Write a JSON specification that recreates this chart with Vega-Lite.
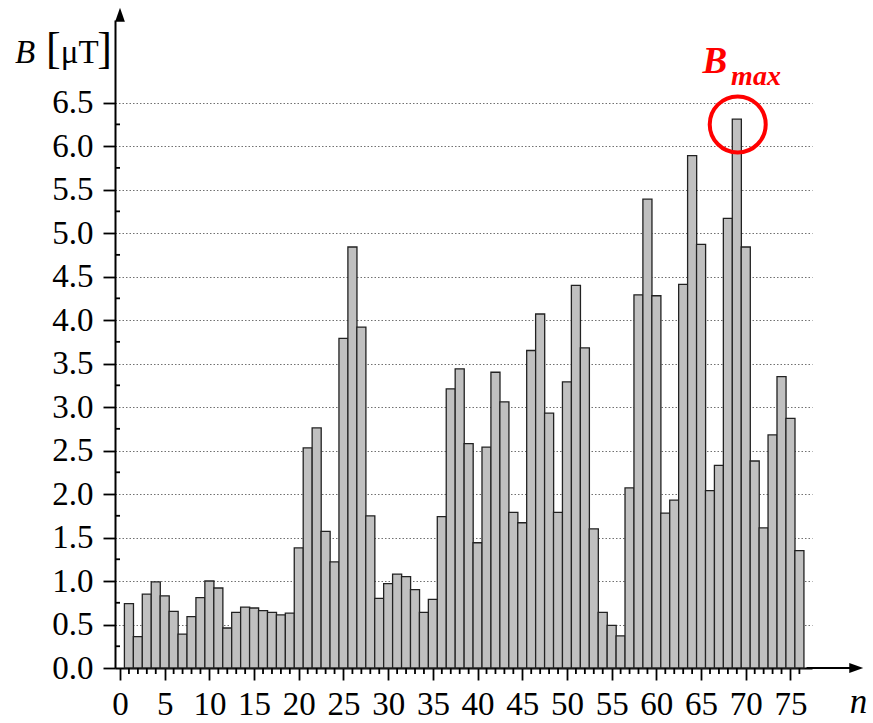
{
  "$schema": "https://vega.github.io/schema/vega-lite/v6.json",
  "autosize": {"type": "none"},
  "padding": {"left": 115, "top": 20, "right": 61, "bottom": 55},
  "width": 697,
  "height": 648,
  "background": "white",
  "config": {"view": {"stroke": null}},
  "datasets": {
    "bars": [
      {"n": 1, "B": 0.74}, {"n": 2, "B": 0.36}, {"n": 3, "B": 0.85}, {"n": 4, "B": 0.99},
      {"n": 5, "B": 0.83}, {"n": 6, "B": 0.65}, {"n": 7, "B": 0.39}, {"n": 8, "B": 0.59},
      {"n": 9, "B": 0.81}, {"n": 10, "B": 1.00}, {"n": 11, "B": 0.92}, {"n": 12, "B": 0.46},
      {"n": 13, "B": 0.64}, {"n": 14, "B": 0.70}, {"n": 15, "B": 0.69}, {"n": 16, "B": 0.66},
      {"n": 17, "B": 0.64}, {"n": 18, "B": 0.61}, {"n": 19, "B": 0.63}, {"n": 20, "B": 1.38},
      {"n": 21, "B": 2.53}, {"n": 22, "B": 2.76}, {"n": 23, "B": 1.57}, {"n": 24, "B": 1.22},
      {"n": 25, "B": 3.79}, {"n": 26, "B": 4.84}, {"n": 27, "B": 3.92}, {"n": 28, "B": 1.75},
      {"n": 29, "B": 0.80}, {"n": 30, "B": 0.97}, {"n": 31, "B": 1.08}, {"n": 32, "B": 1.05},
      {"n": 33, "B": 0.90}, {"n": 34, "B": 0.64}, {"n": 35, "B": 0.79}, {"n": 36, "B": 1.74},
      {"n": 37, "B": 3.21}, {"n": 38, "B": 3.44}, {"n": 39, "B": 2.58}, {"n": 40, "B": 1.44},
      {"n": 41, "B": 2.54}, {"n": 42, "B": 3.40}, {"n": 43, "B": 3.06}, {"n": 44, "B": 1.79},
      {"n": 45, "B": 1.67}, {"n": 46, "B": 3.65}, {"n": 47, "B": 4.07}, {"n": 48, "B": 2.93},
      {"n": 49, "B": 1.79}, {"n": 50, "B": 3.29}, {"n": 51, "B": 4.40}, {"n": 52, "B": 3.68},
      {"n": 53, "B": 1.60}, {"n": 54, "B": 0.64}, {"n": 55, "B": 0.49}, {"n": 56, "B": 0.37},
      {"n": 57, "B": 2.07}, {"n": 58, "B": 4.29}, {"n": 59, "B": 5.39}, {"n": 60, "B": 4.28},
      {"n": 61, "B": 1.78}, {"n": 62, "B": 1.93}, {"n": 63, "B": 4.41}, {"n": 64, "B": 5.89},
      {"n": 65, "B": 4.87}, {"n": 66, "B": 2.04}, {"n": 67, "B": 2.33}, {"n": 68, "B": 5.17},
      {"n": 69, "B": 6.31}, {"n": 70, "B": 4.84}, {"n": 71, "B": 2.38}, {"n": 72, "B": 1.61},
      {"n": 73, "B": 2.68}, {"n": 74, "B": 3.35}, {"n": 75, "B": 2.87}, {"n": 76, "B": 1.35}
    ],
    "minorX": [
      {"m": 1}, {"m": 2}, {"m": 3}, {"m": 4}, {"m": 6}, {"m": 7}, {"m": 8}, {"m": 9},
      {"m": 11}, {"m": 12}, {"m": 13}, {"m": 14}, {"m": 16}, {"m": 17}, {"m": 18}, {"m": 19},
      {"m": 21}, {"m": 22}, {"m": 23}, {"m": 24}, {"m": 26}, {"m": 27}, {"m": 28}, {"m": 29},
      {"m": 31}, {"m": 32}, {"m": 33}, {"m": 34}, {"m": 36}, {"m": 37}, {"m": 38}, {"m": 39},
      {"m": 41}, {"m": 42}, {"m": 43}, {"m": 44}, {"m": 46}, {"m": 47}, {"m": 48}, {"m": 49},
      {"m": 51}, {"m": 52}, {"m": 53}, {"m": 54}, {"m": 56}, {"m": 57}, {"m": 58}, {"m": 59},
      {"m": 61}, {"m": 62}, {"m": 63}, {"m": 64}, {"m": 66}, {"m": 67}, {"m": 68}, {"m": 69},
      {"m": 71}, {"m": 72}, {"m": 73}, {"m": 74}, {"m": 76}
    ],
    "minorY": [
      {"v": 0.25}, {"v": 0.75}, {"v": 1.25}, {"v": 1.75}, {"v": 2.25}, {"v": 2.75}, {"v": 3.25},
      {"v": 3.75}, {"v": 4.25}, {"v": 4.75}, {"v": 5.25}, {"v": 5.75}, {"v": 6.25}
    ],
    "one": [{}]
  },
  "layer": [
    {
      "data": {"name": "bars"},
      "mark": {"type": "bar", "orient": "vertical", "width": 9.07, "fill": "#c0c0c0", "stroke": "#222222", "strokeWidth": 1.3},
      "encoding": {
        "x": {
          "field": "n", "type": "quantitative",
          "scale": {"domain": [0, 76.85], "nice": false, "zero": false},
          "axis": {
            "values": [0, 5, 10, 15, 20, 25, 30, 35, 40, 45, 50, 55, 60, 65, 70, 75],
            "grid": false,
            "domainColor": "black", "domainWidth": 2,
            "tickColor": "black", "tickWidth": 1.8, "tickSize": 12,
            "labelFont": "Liberation Serif", "labelFontSize": 33, "labelColor": "black",
            "labelBaseline": "alphabetic", "labelPadding": 34,
            "labelOverlap": false, "labelFlush": false, "labelBound": false,
            "title": "n",
            "titleFont": "Liberation Serif", "titleFontSize": 35, "titleFontStyle": "italic", "titleFontWeight": "normal",
            "titleColor": "black", "titleAlign": "center", "titleBaseline": "alphabetic",
            "titleAnchor": "start", "titleX": 743, "titleY": 44
          }
        },
        "y": {
          "field": "B", "type": "quantitative",
          "scale": {"domain": [0, 7.45], "nice": false, "zero": true},
          "axis": {
            "values": [0, 0.5, 1, 1.5, 2, 2.5, 3, 3.5, 4, 4.5, 5, 5.5, 6, 6.5],
            "format": ".1f",
            "grid": true, "gridColor": "#707070", "gridWidth": 1, "gridDash": [1.5, 2],
            "domainColor": "black", "domainWidth": 2,
            "tickColor": "black", "tickWidth": 1.8, "tickSize": 12,
            "labelFont": "Liberation Serif", "labelFontSize": 33, "labelColor": "black",
            "labelPadding": 10, "labelBaseline": "middle",
            "labelOverlap": false, "labelFlush": false, "labelBound": false,
            "title": null
          }
        }
      }
    },
    {
      "data": {"name": "minorX"},
      "mark": {"type": "rule", "color": "black", "strokeWidth": 1.8},
      "encoding": {
        "x": {"field": "m", "type": "quantitative"},
        "y": {"datum": 0, "type": "quantitative"},
        "y2": {"datum": -0.069}
      }
    },
    {
      "data": {"name": "minorY"},
      "mark": {"type": "rule", "color": "black", "strokeWidth": 1.8},
      "encoding": {
        "y": {"field": "v", "type": "quantitative"},
        "x": {"datum": 0, "type": "quantitative"},
        "x2": {"datum": -0.55}
      }
    },
    {
      "data": {"name": "one"},
      "mark": {"type": "rule", "color": "black", "strokeWidth": 2},
      "encoding": {
        "x": {"datum": 76.8, "type": "quantitative"},
        "x2": {"datum": 82.14},
        "y": {"datum": 0, "type": "quantitative"}
      }
    },
    {
      "data": {"name": "one"},
      "mark": {"type": "point", "shape": "M1,0L-1,-0.7L-1,0.7Z", "filled": true, "size": 196, "color": "black", "opacity": 1},
      "encoding": {"x": {"datum": 82.36, "type": "quantitative"}, "y": {"datum": 0, "type": "quantitative"}}
    },
    {
      "data": {"name": "one"},
      "mark": {"type": "point", "shape": "M0,-1L-0.7,1L0.7,1Z", "filled": true, "size": 196, "color": "black", "opacity": 1},
      "encoding": {"x": {"datum": 0, "type": "quantitative"}, "y": {"datum": 7.51, "type": "quantitative"}}
    },
    {
      "data": {"name": "one"},
      "mark": {"type": "point", "shape": "circle", "filled": false, "size": 3136, "stroke": "#ff0000", "strokeWidth": 4, "opacity": 1},
      "encoding": {"x": {"datum": 69.1, "type": "quantitative"}, "y": {"datum": 6.249, "type": "quantitative"}}
    },
    {
      "data": {"name": "one"},
      "mark": {"type": "text", "text": "B", "font": "Liberation Serif", "fontSize": 37, "fontStyle": "italic", "fontWeight": "bold", "color": "#ff0000", "align": "left", "baseline": "alphabetic"},
      "encoding": {"x": {"datum": 65.16, "type": "quantitative"}, "y": {"datum": 6.84, "type": "quantitative"}}
    },
    {
      "data": {"name": "one"},
      "mark": {"type": "text", "text": "max", "font": "Liberation Serif", "fontSize": 28, "fontStyle": "italic", "fontWeight": "bold", "color": "#ff0000", "align": "left", "baseline": "alphabetic"},
      "encoding": {"x": {"datum": 68.36, "type": "quantitative"}, "y": {"datum": 6.70, "type": "quantitative"}}
    },
    {
      "data": {"name": "one"},
      "mark": {"type": "text", "text": "B", "font": "Liberation Serif", "fontSize": 33, "fontStyle": "italic", "color": "black", "align": "left", "baseline": "alphabetic"},
      "encoding": {"x": {"datum": -11.75, "type": "quantitative"}, "y": {"datum": 6.956, "type": "quantitative"}}
    },
    {
      "data": {"name": "one"},
      "mark": {"type": "text", "text": "[", "font": "Liberation Serif", "fontSize": 44, "color": "black", "align": "left", "baseline": "alphabetic"},
      "encoding": {"x": {"datum": -8.27, "type": "quantitative"}, "y": {"datum": 6.956, "type": "quantitative"}}
    },
    {
      "data": {"name": "one"},
      "mark": {"type": "text", "text": "μT", "font": "Liberation Serif", "fontSize": 33, "color": "black", "align": "left", "baseline": "alphabetic"},
      "encoding": {"x": {"datum": -6.62, "type": "quantitative"}, "y": {"datum": 6.956, "type": "quantitative"}}
    },
    {
      "data": {"name": "one"},
      "mark": {"type": "text", "text": "]", "font": "Liberation Serif", "fontSize": 44, "color": "black", "align": "left", "baseline": "alphabetic"},
      "encoding": {"x": {"datum": -2.54, "type": "quantitative"}, "y": {"datum": 6.956, "type": "quantitative"}}
    }
  ]
}
